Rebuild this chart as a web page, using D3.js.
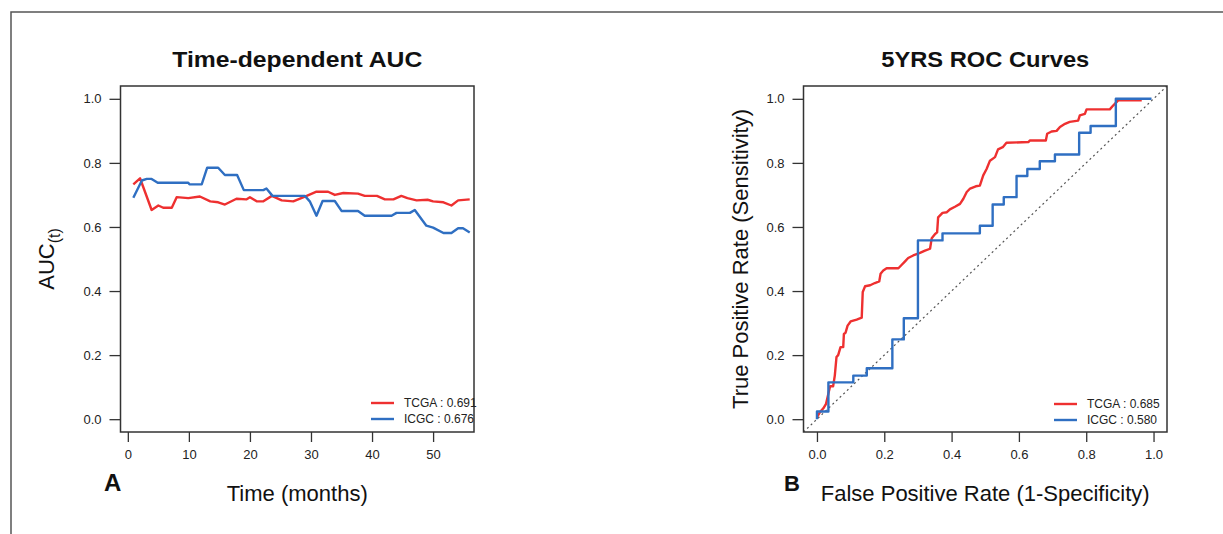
<!DOCTYPE html>
<html>
<head>
<meta charset="utf-8">
<script src="https://cdn.jsdelivr.net/npm/d3@7/dist/d3.min.js"></script>
<style>
  body { margin: 0; background: #fff; }
  text { font-family: "Liberation Sans", Arial, sans-serif; fill: #222; }
</style>
</head>
<body>
<div id="chart"></div>
<script>
// time-dependent AUC (panel A)
var aucMonths = [0.9, 2.0, 3.9, 5.0, 5.8, 7.2, 8.0, 9.9, 11.8, 13.5, 14.8, 15.9, 17.8, 19.4, 20.0, 21.1, 22.2, 23.6, 25.2, 27.1, 29.3, 30.9, 32.8, 33.9, 35.3, 37.7, 38.8, 40.8, 42.1, 43.5, 44.8, 45.8, 47.3, 49.1, 50.0, 51.7, 53.0, 54.1, 56.0];
var aucTCGA = [0.733, 0.752, 0.653, 0.667, 0.66, 0.66, 0.693, 0.69, 0.695, 0.68, 0.677, 0.67, 0.688, 0.686, 0.693, 0.68, 0.68, 0.697, 0.683, 0.68, 0.697, 0.71, 0.71, 0.70, 0.706, 0.704, 0.697, 0.697, 0.686, 0.686, 0.697, 0.69, 0.683, 0.685, 0.68, 0.677, 0.667, 0.683, 0.686];
var icgcMonths = [0.9, 2.3, 3.1, 3.9, 4.9, 9.9, 10.1, 12.1, 13.0, 14.8, 15.9, 17.9, 19.0, 22.2, 22.7, 23.7, 29.0, 29.8, 30.9, 31.9, 33.9, 35.0, 37.7, 38.8, 43.2, 44.0, 46.2, 47.0, 48.9, 50.0, 51.7, 53.0, 54.1, 54.9, 56.0];
var aucICGC = [0.691, 0.745, 0.75, 0.75, 0.738, 0.738, 0.733, 0.733, 0.785, 0.785, 0.762, 0.762, 0.715, 0.715, 0.72, 0.697, 0.697, 0.68, 0.635, 0.681, 0.681, 0.65, 0.65, 0.635, 0.635, 0.644, 0.644, 0.653, 0.604, 0.598, 0.581, 0.581, 0.596, 0.596, 0.583];

// 5 year ROC curves (panel B)
var fprTCGA = [0, 0.009, 0.019, 0.027, 0.039, 0.048, 0.053, 0.058, 0.063, 0.07, 0.078, 0.08, 0.085, 0.091, 0.1, 0.118, 0.133, 0.136, 0.143, 0.158, 0.172, 0.185, 0.189, 0.197, 0.207, 0.242, 0.252, 0.261, 0.271, 0.286, 0.306, 0.321, 0.336, 0.341, 0.351, 0.357, 0.36, 0.373, 0.386, 0.395, 0.41, 0.425, 0.435, 0.445, 0.455, 0.472, 0.484, 0.494, 0.504, 0.514, 0.529, 0.538, 0.552, 0.563, 0.628, 0.633, 0.68, 0.684, 0.697, 0.712, 0.722, 0.737, 0.751, 0.776, 0.781, 0.796, 0.801, 0.87, 0.88, 0.895, 0.965];
var tprTCGA = [0.006, 0.022, 0.034, 0.048, 0.103, 0.103, 0.136, 0.194, 0.20, 0.225, 0.225, 0.266, 0.27, 0.292, 0.305, 0.311, 0.317, 0.397, 0.415, 0.418, 0.425, 0.43, 0.454, 0.464, 0.471, 0.471, 0.482, 0.492, 0.503, 0.511, 0.519, 0.526, 0.532, 0.565, 0.578, 0.583, 0.63, 0.644, 0.646, 0.655, 0.663, 0.672, 0.688, 0.709, 0.72, 0.727, 0.729, 0.761, 0.781, 0.807, 0.818, 0.842, 0.849, 0.863, 0.865, 0.87, 0.87, 0.891, 0.898, 0.90, 0.912, 0.922, 0.928, 0.932, 0.948, 0.953, 0.967, 0.967, 0.979, 0.995, 0.995];
var fprICGC = [0, 0, 0.034, 0.034, 0.108, 0.108, 0.148, 0.148, 0.224, 0.224, 0.258, 0.258, 0.30, 0.30, 0.373, 0.373, 0.484, 0.484, 0.522, 0.522, 0.555, 0.555, 0.593, 0.593, 0.625, 0.625, 0.662, 0.662, 0.707, 0.707, 0.779, 0.779, 0.813, 0.813, 0.888, 0.888, 0.994];
var tprICGC = [0, 0.024, 0.024, 0.115, 0.115, 0.136, 0.136, 0.159, 0.159, 0.249, 0.249, 0.315, 0.315, 0.558, 0.558, 0.58, 0.58, 0.604, 0.604, 0.67, 0.67, 0.693, 0.693, 0.759, 0.759, 0.781, 0.781, 0.805, 0.805, 0.826, 0.826, 0.894, 0.894, 0.915, 0.915, 1.0, 1.0];

var legendA = ["TCGA : 0.691", "ICGC : 0.676"];
var legendB = ["TCGA : 0.685", "ICGC : 0.580"];
var monthTicks = [0, 10, 20, 30, 40, 50];
var rateTicks = [0, 0.2, 0.4, 0.6, 0.8, 1.0];

var red = "#ee3030", blue = "#2f6fc2";

var svg = d3.select("#chart").append("svg")
  .attr("width", 1223)
  .attr("height", 534);

// outer frame (only top and left visible)
svg.append("path")
  .attr("d", "M11,534 L11,12 L1223,12")
  .attr("fill", "none")
  .attr("stroke", "#555")
  .attr("stroke-width", 1.5);

function panel(opt) {
  var x = d3.scaleLinear().domain(opt.xdom).range([opt.left, opt.right]);
  var y = d3.scaleLinear().domain([-0.04, 1.04]).range([opt.bottom, opt.top]);

  var g = svg.append("g");

  // clip for lines
  var clipId = "clip" + opt.id;
  svg.append("clipPath").attr("id", clipId)
    .append("rect")
    .attr("x", opt.left).attr("y", opt.top)
    .attr("width", opt.right - opt.left).attr("height", opt.bottom - opt.top);

  // axes, R style
  var xAxis = d3.axisBottom(x).tickValues(opt.xticks).tickSize(10).tickPadding(8)
    .tickFormat(opt.xfmt);
  var yAxis = d3.axisLeft(y).tickValues(rateTicks).tickSize(11).tickPadding(8)
    .tickFormat(d3.format(".1f"));

  var gx = g.append("g").attr("transform", `translate(0, ${opt.bottom})`).call(xAxis);
  var gy = g.append("g").attr("transform", `translate(${opt.left}, 0)`).call(yAxis);
  [gx, gy].forEach(function (a) {
    a.select(".domain").remove();
    a.selectAll("line").attr("stroke", "#333").attr("stroke-width", 1.3);
    a.selectAll("text").style("font-size", "13px").style("fill", "#222");
  });

  var plot = g.append("g").attr("clip-path", `url(#${clipId})`);

  if (opt.diag) {
    plot.append("line")
      .attr("x1", x(-0.04)).attr("y1", y(-0.04))
      .attr("x2", x(1.04)).attr("y2", y(1.04))
      .attr("stroke", "#555")
      .attr("stroke-width", 1.2)
      .attr("stroke-dasharray", "2,3");
  }

  var line = d3.line().x(d => x(d[0])).y(d => y(d[1]));
  opt.series.forEach(function (s) {
    plot.append("path")
      .datum(d3.zip(s.xs, s.ys))
      .attr("d", line)
      .attr("fill", "none")
      .attr("stroke", s.color)
      .attr("stroke-width", 2.4)
      .attr("stroke-linejoin", "round");
  });

  // box
  g.append("rect")
    .attr("x", opt.left).attr("y", opt.top)
    .attr("width", opt.right - opt.left).attr("height", opt.bottom - opt.top)
    .attr("fill", "none")
    .attr("stroke", "#333")
    .attr("stroke-width", 1.5);

  // title
  g.append("text")
    .attr("x", (opt.left + opt.right) / 2)
    .attr("y", 67)
    .attr("text-anchor", "middle")
    .attr("textLength", opt.titleLen)
    .attr("lengthAdjust", "spacingAndGlyphs")
    .style("font-size", "22px")
    .style("font-weight", "bold")
    .style("fill", "#111")
    .text(opt.title);

  // x label
  g.append("text")
    .attr("x", (opt.left + opt.right) / 2)
    .attr("y", 501)
    .attr("text-anchor", "middle")
    .style("font-size", "22px")
    .style("fill", "#111")
    .text(opt.xlab);

  // panel letter
  g.append("text")
    .attr("x", opt.letterX)
    .attr("y", 491)
    .style("font-size", opt.letterSize)
    .style("font-weight", "bold")
    .style("fill", "#111")
    .text(opt.letter);

  // y label
  var yl = g.append("text")
    .attr("transform", `translate(${opt.ylabX}, ${(opt.top + opt.bottom) / 2}) rotate(-90)`)
    .attr("text-anchor", "middle")
    .style("font-size", "22px")
    .style("fill", "#111");
  opt.ylab(yl);

  // legend
  var lg = g.append("g");
  opt.legend.forEach(function (t, i) {
    var ly = opt.legY + i * 16;
    lg.append("line")
      .attr("x1", opt.legX).attr("x2", opt.legX + 23)
      .attr("y1", ly).attr("y2", ly)
      .attr("stroke", opt.series[i].color)
      .attr("stroke-width", 2.4);
    lg.append("text")
      .attr("x", opt.legX + 33)
      .attr("y", ly + 4)
      .style("font-size", "12px")
      .style("fill", "#222")
      .text(t);
  });
}

panel({
  id: "A",
  left: 120.5, right: 474, top: 86, bottom: 432,
  xdom: [-1.2, 56.7],
  xticks: monthTicks,
  xfmt: d3.format("d"),
  title: "Time-dependent AUC", titleLen: 250,
  xlab: "Time (months)",
  letter: "A", letterX: 104, letterSize: "24px",
  ylabX: 54,
  ylab: function (t) {
    t.append("tspan").text("AUC");
    t.append("tspan").attr("dy", 6).style("font-size", "16px").text("(t)");
  },
  legend: legendA, legX: 371, legY: 403,
  series: [
    { xs: aucMonths, ys: aucTCGA, color: red },
    { xs: icgcMonths, ys: aucICGC, color: blue }
  ],
  diag: false
});

panel({
  id: "B",
  left: 803.5, right: 1167, top: 86, bottom: 432,
  xdom: [-0.04, 1.04],
  xticks: rateTicks,
  xfmt: d3.format(".1f"),
  title: "5YRS ROC Curves", titleLen: 208,
  xlab: "False Positive Rate (1-Specificity)",
  letter: "B", letterX: 784, letterSize: "22px",
  ylabX: 748,
  ylab: function (t) { t.text("True Positive Rate (Sensitivity)"); },
  legend: legendB, legX: 1054, legY: 404,
  series: [
    { xs: fprTCGA, ys: tprTCGA, color: red },
    { xs: fprICGC, ys: tprICGC, color: blue }
  ],
  diag: true
});
</script>
</body>
</html>
